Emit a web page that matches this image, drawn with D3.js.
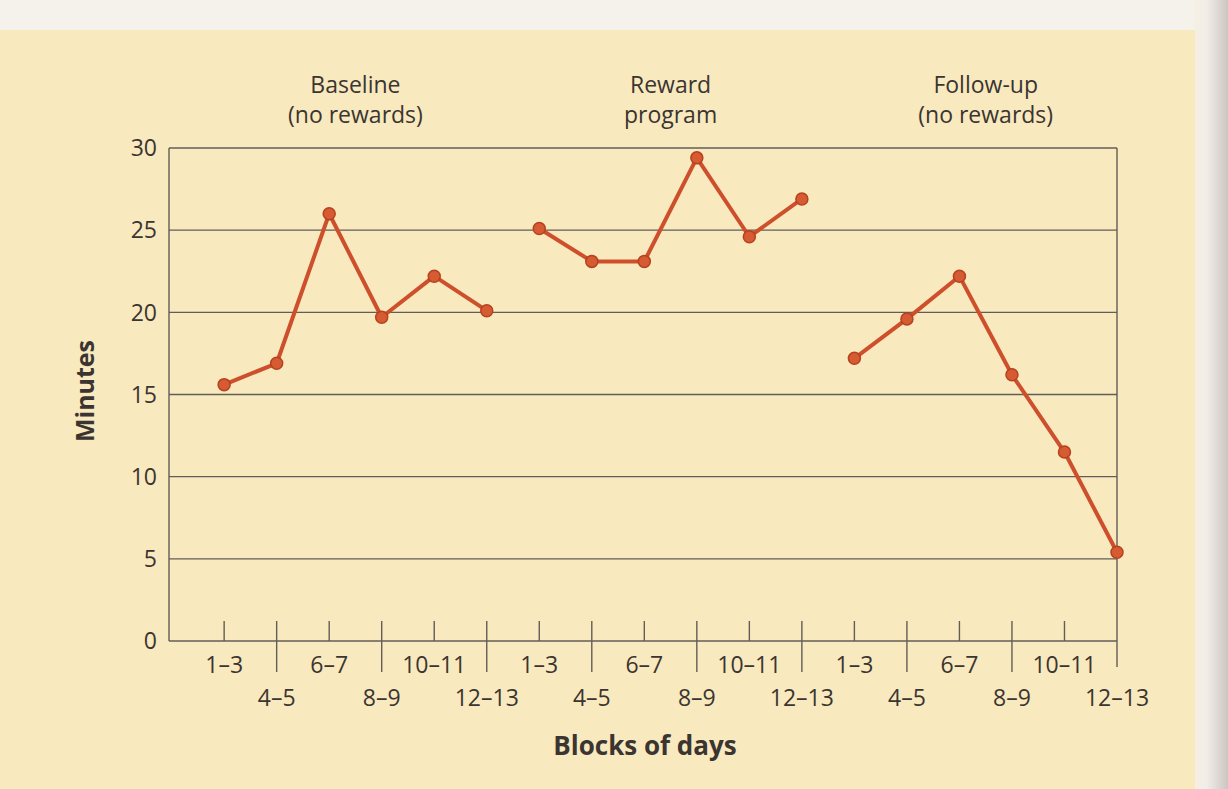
<!DOCTYPE html>
<html>
<head>
<meta charset="utf-8">
<script src="https://cdn.jsdelivr.net/npm/d3@7"></script>
<style>
  body { margin: 0; background: #f4f0e8; }
  svg { display: block; }
  text { font-family: 'Open Sans', 'Noto Sans', sans-serif; fill: #3b3531; }
</style>
</head>
<body>
<svg id="chart"></svg>
<script>
const phaseTitles = [
  ['Baseline', '(no rewards)'],
  ['Reward', 'program'],
  ['Follow-up', '(no rewards)']
];
const blocks = ['1–3', '4–5', '6–7', '8–9', '10–11', '12–13'];

const baseline = [15.6, 16.9, 26.0, 19.7, 22.2, 20.1];
const reward = [25.1, 23.1, 23.1, 29.4, 24.6, 26.9];
const followUp = [17.2, 19.6, 22.2, 16.2, 11.5, 5.4];

const yTicks = [0, 5, 10, 15, 20, 25, 30];

const width = 1228;
const height = 789;

const plotLeft = 169;
const plotRight = 1117;
const plotTop = 148;
const plotBottom = 641;

const lineColor = '#cd4f2b';
const gridColor = '#625d58';

const svg = d3.select('#chart')
              .attr('width', width)
              .attr('height', height)

// paper background
const defs = svg.append('defs')
const grad = defs.append('linearGradient')
                 .attr('id', 'edge')
                 .attr('x1', 0).attr('x2', 1)
grad.append('stop').attr('offset', 0).attr('stop-color', '#f6efe2')
grad.append('stop').attr('offset', 0.35).attr('stop-color', '#f1ede8')
grad.append('stop').attr('offset', 1).attr('stop-color', '#cbc6c1')

svg.append('rect')
   .attr('x', 0).attr('y', 0)
   .attr('width', width).attr('height', height)
   .attr('fill', '#f5f2ec')
svg.append('rect')
   .attr('x', 1195).attr('y', 0)
   .attr('width', width - 1195).attr('height', height)
   .attr('fill', 'url(#edge)')
svg.append('rect')
   .attr('x', 0).attr('y', 30)
   .attr('width', 1195).attr('height', height - 30)
   .attr('fill', '#f9e9be')

const x = d3.scaleLinear()
            .domain([-1.05, 17])
            .range([plotLeft, plotRight])

const y = d3.scaleLinear()
            .domain([0, 30])
            .range([plotBottom, plotTop])

// horizontal grid lines
svg.append('g')
   .selectAll('line')
   .data(yTicks)
   .enter()
   .append('line')
   .attr('x1', plotLeft)
   .attr('x2', plotRight)
   .attr('y1', d => y(d))
   .attr('y2', d => y(d))
   .attr('stroke', gridColor)
   .attr('stroke-width', 1.4)

// left and right borders
svg.append('line')
   .attr('x1', plotLeft).attr('x2', plotLeft)
   .attr('y1', y(30)).attr('y2', y(0))
   .attr('stroke', gridColor).attr('stroke-width', 1.4)
svg.append('line')
   .attr('x1', plotRight).attr('x2', plotRight)
   .attr('y1', y(30)).attr('y2', y(0) + 26)
   .attr('stroke', gridColor).attr('stroke-width', 1.4)

// y labels
svg.append('g')
   .selectAll('text')
   .data(yTicks)
   .enter()
   .append('text')
   .attr('x', plotLeft - 12)
   .attr('y', d => y(d))
   .attr('dy', '0.36em')
   .attr('text-anchor', 'end')
   .style('font-size', '23px')
   .text(d => d)

// x ticks and labels
const xItems = [];
phaseTitles.forEach((p, pi) => {
  blocks.forEach((b, bi) => {
    xItems.push({ index: pi * 6 + bi, label: b });
  });
});

svg.append('g')
   .selectAll('line')
   .data(xItems.filter(d => d.index < 17))
   .enter()
   .append('line')
   .attr('x1', d => x(d.index))
   .attr('x2', d => x(d.index))
   .attr('y1', y(0) - 20)
   .attr('y2', d => d.index % 2 === 0 ? y(0) : y(0) + 31)
   .attr('stroke', gridColor)
   .attr('stroke-width', 1.4)

svg.append('g')
   .selectAll('text')
   .data(xItems)
   .enter()
   .append('text')
   .attr('x', d => x(d.index))
   .attr('y', d => d.index % 2 === 0 ? 673 : 706)
   .attr('text-anchor', 'middle')
   .style('font-size', '23px')
   .text(d => d.label)

// phase titles
phaseTitles.forEach((lines, pi) => {
  const t = svg.append('text')
               .attr('text-anchor', 'middle')
               .style('font-size', '23px')
  lines.forEach((line, li) => {
    t.append('tspan')
     .attr('x', x(pi * 6 + 2.5))
     .attr('y', 93 + li * 30)
     .text(line)
  });
});

// axis titles
svg.append('text')
   .attr('x', 645)
   .attr('y', 755)
   .attr('text-anchor', 'middle')
   .style('font-size', '26px')
   .style('font-weight', 'bold')
   .text('Blocks of days')

svg.append('text')
   .attr('transform', 'translate(94, 391) rotate(-90)')
   .attr('text-anchor', 'middle')
   .style('font-size', '25px')
   .style('font-weight', 'bold')
   .text('Minutes')

// lines and markers
const series = [baseline, reward, followUp];
const line = d3.line()
               .x(d => x(d.index))
               .y(d => y(d.value))

series.forEach((values, si) => {
  const pts = values.map((v, i) => ({ index: si * 6 + i, value: v }));
  svg.append('path')
     .datum(pts)
     .attr('d', line)
     .attr('fill', 'none')
     .attr('stroke', lineColor)
     .attr('stroke-width', 4)
     .attr('stroke-linejoin', 'round')
  svg.append('g')
     .selectAll('circle')
     .data(pts)
     .enter()
     .append('circle')
     .attr('cx', d => x(d.index))
     .attr('cy', d => y(d.value))
     .attr('r', 6)
     .attr('fill', '#d65a32')
     .attr('stroke', '#b5421f')
     .attr('stroke-width', 1.5)
});
</script>
</body>
</html>
